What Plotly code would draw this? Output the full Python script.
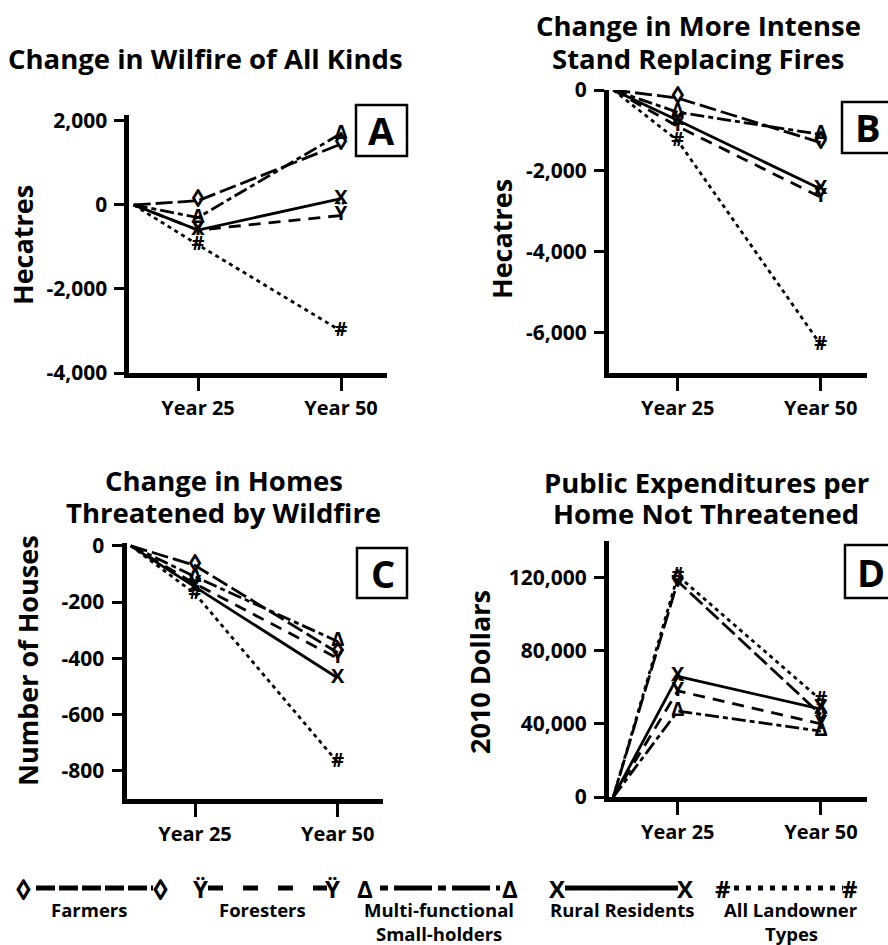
import plotly.graph_objects as go

W, H = 888, 945
FONT = "Open Sans, DejaVu Sans, sans-serif"

# ---------------- data ----------------
groups = [["Farmers"], ["Foresters"], ["Multi-functional", "Small-holders"],
          ["Rural Residents"], ["All Landowner", "Types"]]
glyphs = ["◊", "Ÿ", "Δ", "X", "#"]
x_labels = ["Year 25", "Year 50"]

# values at: start, Year 25, Year 50
wildfire_all = [
    [0, 100, 1450],      # Farmers
    [0, -600, -250],     # Foresters
    [0, -300, 1700],     # Multi-functional
    [0, -600, 150],      # Rural Residents
    [0, -950, -3000],    # All Landowner Types
]
stand_replacing = [
    [0, -200, -1300],
    [0, -900, -2650],
    [0, -550, -1100],
    [0, -750, -2450],
    [0, -1250, -6300],
]
homes_threatened = [
    [0, -70, -380],
    [0, -135, -400],
    [0, -110, -340],
    [0, -145, -470],
    [0, -170, -770],
]
expenditures = [
    [0, 118000, 45000],
    [0, 58000, 40000],
    [0, 47000, 36000],
    [0, 66000, 48000],
    [0, 121000, 53000],
]

ticks_a = [-4000, -2000, 0, 2000]
ticks_a_txt = ["-4,000", "-2,000", "0", "2,000"]
ticks_b = [-6000, -4000, -2000, 0]
ticks_b_txt = ["-6,000", "-4,000", "-2,000", "0"]
ticks_c = [-800, -600, -400, -200, 0]
ticks_c_txt = ["-800", "-600", "-400", "-200", "0"]
ticks_d = [0, 40000, 80000, 120000]
ticks_d_txt = ["0", "40,000", "80,000", "120,000"]

# ---------------- styles ----------------
X_POS = [0.55, 1, 2]
dashes = ["17px,5px", "12px,8px", "14px,4px,5px,4px", "solid", "4px,4px"]
glyph_size = [25, 20, 20, 20, 20]
leg_glyph_size = [29, 24, 24, 24, 24]


def px(x):
    return x / W


def py(y):
    return 1 - y / H


panels = [
    dict(data=wildfire_all, xd=(129.4, 386.8), yd=(115, 373), yr=[-4000, 2140],
         tv=ticks_a, tt=ticks_a_txt, title=["Change in Wilfire of All Kinds"],
         tx=205, ty=[58], ytitle="Hecatres", ytx=22, yty=245,
         box=(356, 105, 407, 156), letter="A"),
    dict(data=stand_replacing, xd=(609, 866.5), yd=(90, 373), yr=[-7000, 0],
         tv=ticks_b, tt=ticks_b_txt,
         title=["Change in More Intense", "Stand Replacing Fires"],
         tx=698, ty=[25, 59], ytitle="Hecatres", ytx=501, yty=239,
         box=(842, 102, 900, 153), letter="B"),
    dict(data=homes_threatened, xd=(126.5, 383.4), yd=(543, 799), yr=[-900, 10],
         tv=ticks_c, tt=ticks_c_txt,
         title=["Change in Homes", "Threatened by Wildfire"],
         tx=224, ty=[480, 512], ytitle="Number of Houses", ytx=27, yty=661,
         box=(357, 548, 407, 598), letter="C"),
    dict(data=expenditures, xd=(609, 866.8), yd=(541, 797), yr=[0, 140000],
         tv=ticks_d, tt=ticks_d_txt,
         title=["Public Expenditures per", "Home Not Threatened"],
         tx=706, ty=[482, 513], ytitle="2010 Dollars", ytx=479, yty=672,
         box=(845, 545, 900, 598), letter="D"),
]

fig = go.Figure()
annotations = []
shapes = []

for i, p in enumerate(panels):
    n = "" if i == 0 else str(i + 1)
    xa, ya = "x" + n, "y" + n
    for g in range(5):
        fig.add_trace(go.Scatter(
            x=X_POS, y=p["data"][g], xaxis=xa, yaxis=ya,
            mode="lines+text", text=["", glyphs[g], glyphs[g]],
            textposition="middle center", cliponaxis=False,
            textfont=dict(family=FONT, size=glyph_size[g], color="black",
                          weight="bold"),
            line=dict(color="black", width=2.8, dash=dashes[g]),
            showlegend=False, hoverinfo="skip",
        ))
    axis_common = dict(showline=True, linecolor="black", linewidth=5,
                       ticks="outside", tickcolor="black", tickwidth=3,
                       showgrid=False, zeroline=False, automargin=False)
    fig.layout["xaxis" + n] = dict(
        axis_common, domain=[px(p["xd"][0]), px(p["xd"][1])],
        range=[0.52, 2.32], anchor=ya, tickvals=[1, 2], ticktext=x_labels,
        ticklen=13,
        tickfont=dict(family=FONT, size=20, color="black", weight="bold"))
    fig.layout["yaxis" + n] = dict(
        axis_common, domain=[py(p["yd"][1]), py(p["yd"][0])],
        range=p["yr"], anchor=xa, tickvals=p["tv"], ticktext=p["tt"],
        ticklen=10, ticklabelstandoff=3,
        tickfont=dict(family=FONT, size=21, color="black", weight="bold"))

    for t, yy in zip(p["title"], p["ty"]):
        annotations.append(dict(
            x=px(p["tx"]), y=py(yy), xref="paper", yref="paper", text=t,
            showarrow=False, xanchor="center", yanchor="middle",
            font=dict(family=FONT, size=27.5, color="black", weight="bold")))
    annotations.append(dict(
        x=px(p["ytx"]), y=py(p["yty"]), xref="paper", yref="paper",
        text=p["ytitle"], textangle=-90, showarrow=False,
        xanchor="center", yanchor="middle",
        font=dict(family=FONT, size=27, color="black", weight="bold")))
    x0, y0, x1, y1 = p["box"]
    shapes.append(dict(type="rect", xref="paper", yref="paper",
                       x0=px(x0), x1=px(x1), y0=py(y1), y1=py(y0),
                       line=dict(color="black", width=2.5),
                       fillcolor="white"))
    annotations.append(dict(
        x=px(x0 + 25.5), y=py((y0 + y1) / 2), xref="paper", yref="paper",
        text=p["letter"], showarrow=False, xanchor="center", yanchor="middle",
        font=dict(family=FONT, size=38, color="black", weight="bold")))

# ---------------- legend ----------------
leg = [  # glyph1 x, line x0, line x1, glyph2 x, label x
    (23, 36, 153, 160, 89),
    (200, 208, 327, 332, 262),
    (365, 380, 500, 510, 439),
    (557, 565, 678, 685, 622),
    (723, 734, 843, 850, 791),
]
leg_dash = ["19px,4px", "15px,20px", "8px,6px,38px,6px", "solid", "5px,7px"]
LY = 888
for g, (g1, l0, l1, g2, lx) in enumerate(leg):
    shapes.append(dict(type="line", xref="paper", yref="paper",
                       x0=px(l0), x1=px(l1), y0=py(LY), y1=py(LY),
                       line=dict(color="black", width=5, dash=leg_dash[g])))
    for gx in (g1, g2):
        annotations.append(dict(
            x=px(gx), y=py(LY), xref="paper", yref="paper", text=glyphs[g],
            showarrow=False, xanchor="center", yanchor="middle",
            font=dict(family=FONT, size=leg_glyph_size[g], color="black",
                      weight="bold")))
    for k, line_txt in enumerate(groups[g]):
        annotations.append(dict(
            x=px(lx), y=py(909 + 24 * k), xref="paper", yref="paper",
            text=line_txt, showarrow=False, xanchor="center",
            yanchor="middle",
            font=dict(family=FONT, size=18.5, color="black", weight="bold")))

fig.update_layout(
    width=W, height=H, autosize=False,
    margin=dict(l=0, r=0, t=0, b=0, pad=0, autoexpand=False),
    paper_bgcolor="white", plot_bgcolor="white",
    annotations=annotations, shapes=shapes,
    font=dict(family=FONT, color="black"),
)

fig.write_html(
    "out.html",
    config={"displayModeBar": False, "staticPlot": True},
    post_script="document.body.style.margin='0';"
                "document.body.style.overflow='hidden';")
